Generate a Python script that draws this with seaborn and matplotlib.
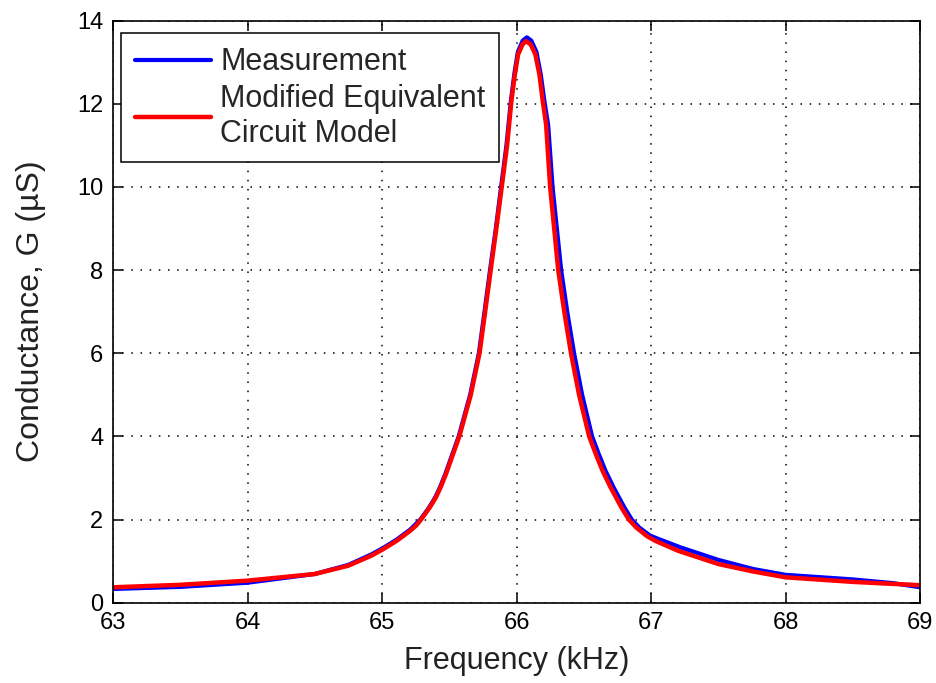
import matplotlib
matplotlib.use("Agg")
import matplotlib.pyplot as plt
import seaborn as sns
import pandas as pd

# Measured conductance around the resonance (kHz, microsiemens)
meas_freq = [63.0, 63.5, 64.0, 64.5, 64.75, 64.92, 65.01, 65.11, 65.21, 65.25,
             65.285, 65.35, 65.395, 65.43, 65.47, 65.505, 65.57, 65.655, 65.72,
             65.762, 65.803, 65.846, 65.885, 65.925, 65.958, 65.985, 66.01,
             66.046, 66.077, 66.11, 66.148, 66.18, 66.207, 66.235, 66.268, 66.30,
             66.332, 66.377, 66.428, 66.488, 66.562, 66.612, 66.662, 66.722,
             66.762, 66.802, 66.857, 66.912, 66.99, 67.05, 67.22, 67.5, 67.76,
             68.0, 68.5, 68.8, 69.0]
meas_g = [0.33, 0.38, 0.48, 0.69, 0.91, 1.16, 1.32, 1.52, 1.76, 1.89,
          2.0, 2.29, 2.53, 2.77, 3.09, 3.41, 4.0, 5.0, 6.0,
          7.0, 8.0, 9.0, 10.0, 11.0, 12.07, 12.75, 13.25,
          13.52, 13.6, 13.52, 13.25, 12.71, 12.07, 11.5, 10.0, 9.0,
          8.0, 7.0, 6.0, 5.0, 4.0, 3.57, 3.17, 2.77,
          2.53, 2.29, 2.0, 1.81, 1.62, 1.54, 1.33, 1.03, 0.81,
          0.67, 0.56, 0.47, 0.37]

# Modified equivalent circuit model
model_freq = [63.0, 63.5, 64.0, 64.5, 64.75, 64.92, 65.01, 65.11, 65.21, 65.255,
              65.29, 65.355, 65.40, 65.435, 65.475, 65.51, 65.575, 65.66, 65.725,
              65.767, 65.808, 65.85, 65.89, 65.93, 65.962, 65.988, 66.012,
              66.045, 66.07, 66.105, 66.14, 66.17, 66.195, 66.22, 66.25, 66.28,
              66.31, 66.355, 66.405, 66.465, 66.54, 66.59, 66.64, 66.70,
              66.74, 66.78, 66.835, 66.89, 66.97, 67.03, 67.2, 67.5, 67.76,
              68.0, 68.5, 69.0]
model_g = [0.37, 0.43, 0.53, 0.69, 0.89, 1.13, 1.29, 1.49, 1.73, 1.86,
           2.0, 2.29, 2.53, 2.77, 3.09, 3.41, 4.0, 5.0, 6.0,
           7.0, 8.0, 9.0, 10.0, 11.0, 12.07, 12.71, 13.19,
           13.43, 13.51, 13.43, 13.19, 12.71, 12.07, 11.5, 10.0, 9.0,
           8.0, 7.0, 6.0, 5.0, 4.0, 3.57, 3.17, 2.77,
           2.53, 2.29, 2.0, 1.81, 1.6, 1.49, 1.25, 0.93, 0.75,
           0.61, 0.50, 0.42]

x_ticks = [63, 64, 65, 66, 67, 68, 69]
y_ticks = [0, 2, 4, 6, 8, 10, 12, 14]

sns.set_theme(style="white")
plt.rcParams["font.family"] = ["Liberation Sans", "DejaVu Sans"]

fig = plt.figure(figsize=(9.37, 6.83), dpi=100)
ax = fig.add_axes([0.1206, 0.1176, 0.8613, 0.8521])

meas = pd.DataFrame({"f": meas_freq, "g": meas_g})
model = pd.DataFrame({"f": model_freq, "g": model_g})

sns.lineplot(data=meas, x="f", y="g", ax=ax, color="#0000ff", lw=3.0,
             estimator=None, label="Measurement")
sns.lineplot(data=model, x="f", y="g", ax=ax, color="#ff0000", lw=3.2,
             estimator=None, label="Modified Equivalent\nCircuit Model")

ax.set_xlim(63, 69)
ax.set_ylim(0, 14)
ax.set_xticks(x_ticks)
ax.set_yticks(y_ticks)
ax.set_xticklabels([str(t) for t in x_ticks])
ax.set_yticklabels([str(t) for t in y_ticks])

ax.grid(True, color="black", linestyle=(0, (1, 5)), linewidth=1.1)
ax.set_axisbelow(True)
for s in ax.spines.values():
    s.set_visible(True)
    s.set_color("black")
    s.set_linewidth(1.2)

ax.tick_params(axis="both", which="major", direction="in", length=7, width=1.1,
               top=True, right=True, bottom=True, left=True,
               labelsize=17, colors="black", pad=7)

ax.set_xlabel("Frequency (kHz)", fontsize=22, color="#222222", labelpad=8)
ax.set_ylabel("Conductance, G (\u00b5S)", fontsize=23, color="#222222", labelpad=22)

leg = ax.legend(loc="upper left", bbox_to_anchor=(0.0099, 0.978), fontsize=22,
                frameon=True, fancybox=False, framealpha=1, edgecolor="black",
                handlelength=2.5, handletextpad=0.3, borderpad=0.45,
                labelspacing=0.22, borderaxespad=0.0)
leg.get_frame().set_linewidth(1.1)

fig.savefig("out.png", dpi=100)
